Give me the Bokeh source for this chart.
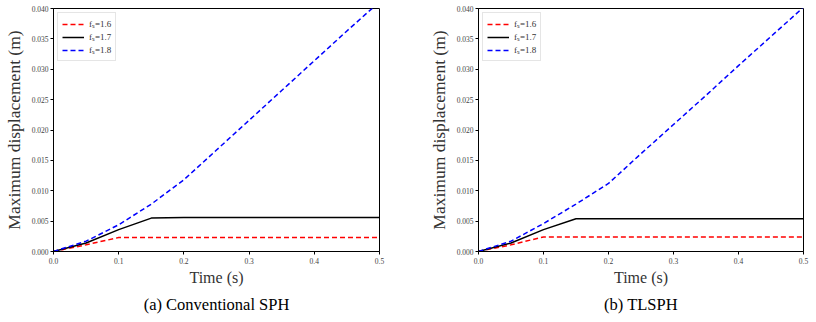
from bokeh.plotting import figure
from bokeh.layouts import row
from bokeh.models import Range1d, FixedTicker, PrintfTickFormatter, Title, Legend, LegendItem
from bokeh.embed import file_html
from bokeh.resources import INLINE

# Data
time = [0.0, 0.05, 0.10, 0.15, 0.20, 0.25, 0.30, 0.35, 0.40, 0.45, 0.50]
labels = ["fₛ=1.6", "fₛ=1.7", "fₛ=1.8"]

sph_16 = [0.0, 0.0011, 0.0023, 0.0023, 0.0023, 0.0023, 0.0023, 0.0023, 0.0023, 0.0023, 0.0023]
sph_17 = [0.0, 0.0014, 0.0036, 0.0055, 0.0056, 0.0056, 0.0056, 0.0056, 0.0056, 0.0056, 0.0056]
sph_18 = [0.0, 0.0017, 0.0044, 0.0078, 0.0118, 0.0167, 0.0216, 0.0265, 0.0314, 0.0363, 0.0411]

tl_16 = [0.0, 0.0011, 0.0024, 0.0024, 0.0024, 0.0024, 0.0024, 0.0024, 0.0024, 0.0024, 0.0024]
tl_17 = [0.0, 0.0014, 0.0036, 0.0054, 0.0054, 0.0054, 0.0054, 0.0054, 0.0054, 0.0054, 0.0054]
tl_18 = [0.0, 0.0017, 0.0046, 0.0078, 0.0112, 0.0161, 0.0209, 0.0257, 0.0306, 0.0354, 0.0402]

captions = ["(a) Conventional SPH", "(b) TLSPH"]
x_ticks = [0.0, 0.1, 0.2, 0.3, 0.4, 0.5]
y_ticks = [0.0, 0.005, 0.010, 0.015, 0.020, 0.025, 0.030, 0.035, 0.040]

SERIF = "Liberation Serif"


def panel(s16, s17, s18, caption, bl, br, fw):
    p = figure(frame_width=fw, frame_height=243, output_backend="svg", toolbar_location=None,
               x_range=Range1d(0, 0.5), y_range=Range1d(0, 0.04),
               min_border_left=bl, min_border_right=br, min_border_top=8, min_border_bottom=71)
    p.grid.visible = False
    p.outline_line_color = "black"
    p.outline_line_width = 1
    p.background_fill_color = "white"
    p.border_fill_color = "white"

    r1 = p.line(time, s16, line_color="#ff0000", line_width=1.5, line_dash="5 3")
    r2 = p.line(time, s17, line_color="black", line_width=1.5)
    r3 = p.line(time, s18, line_color="#0000ff", line_width=1.5, line_dash="5 3")

    p.xaxis.ticker = FixedTicker(ticks=x_ticks)
    p.yaxis.ticker = FixedTicker(ticks=y_ticks)
    p.xaxis.formatter = PrintfTickFormatter(format="%.1f")
    p.yaxis.formatter = PrintfTickFormatter(format="%.3f")
    p.xaxis.axis_label = "Time (s)"
    p.yaxis.axis_label = "Maximum displacement (m)"

    for ax in (p.xaxis, p.yaxis):
        ax.major_label_text_font = SERIF
        ax.major_label_text_font_size = "7.5px"
        ax.major_label_text_color = "#444444"
        ax.axis_label_text_font = SERIF
        ax.axis_label_text_font_style = "normal"
        ax.axis_label_text_color = "#333333"
        ax.minor_tick_line_color = None
        ax.major_tick_out = 3
        ax.major_tick_in = 0
        ax.axis_line_color = "black"
        ax.major_tick_line_color = "black"

    p.xaxis.axis_label_text_font_size = "16px"
    p.yaxis.axis_label_text_font_size = "17.5px"
    p.xaxis.axis_label_standoff = 2
    p.yaxis.axis_label_standoff = 5
    p.xaxis.major_label_standoff = 3
    p.yaxis.major_label_standoff = 2

    leg = Legend(items=[LegendItem(label=labels[0], renderers=[r1]),
                        LegendItem(label=labels[1], renderers=[r2]),
                        LegendItem(label=labels[2], renderers=[r3])],
                 location="top_left")
    leg.label_text_font = SERIF
    leg.label_text_font_size = "9px"
    leg.label_text_color = "#333333"
    leg.label_height = 8
    leg.glyph_height = 8
    leg.glyph_width = 22
    leg.spacing = 0
    leg.padding = 4
    leg.margin = 4
    leg.border_line_color = "#cccccc"
    leg.background_fill_alpha = 0.9
    p.add_layout(leg)

    t = Title(text=caption, align="center", text_font=SERIF, text_font_size="16.5px",
              text_font_style="normal", text_color="black", standoff=8)
    p.add_layout(t, "below")
    return p


p1 = panel(sph_16, sph_17, sph_18, captions[0], 53, 29, 326)
p2 = panel(tl_16, tl_17, tl_18, captions[1], 70, 13, 325)
layout = row(p1, p2)

open("out.html", "w").write(file_html(layout, INLINE))
